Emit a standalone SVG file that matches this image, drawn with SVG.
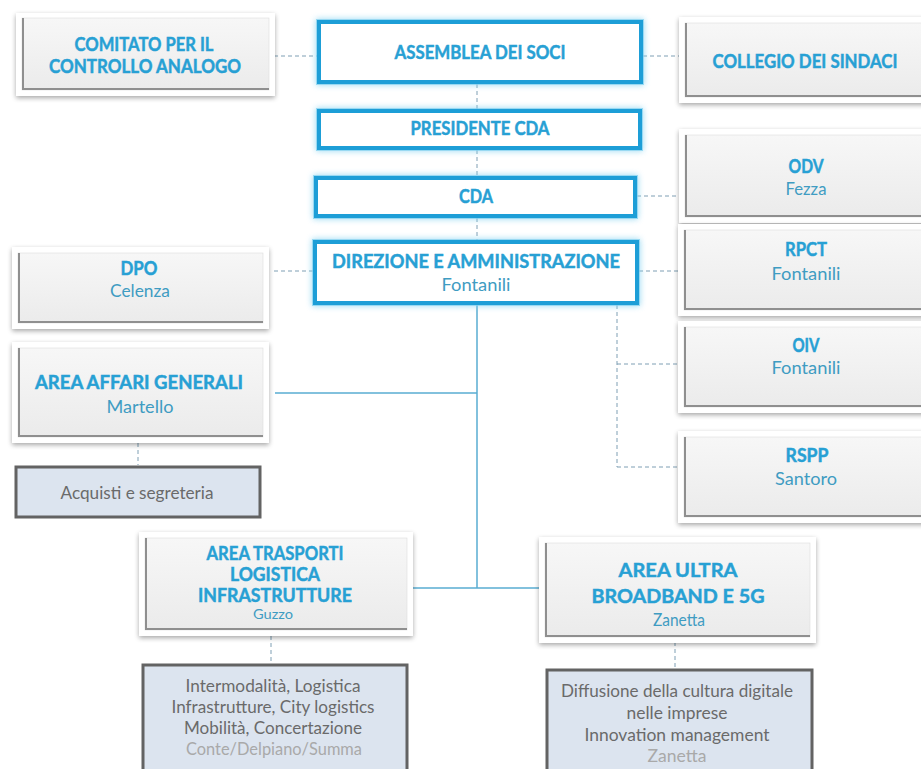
<svg xmlns="http://www.w3.org/2000/svg" width="921" height="769" viewBox="0 0 921 769">
<defs>
<linearGradient id="gg" x1="0" y1="0" x2="0" y2="1"><stop offset="0" stop-color="#f7f7f7"/><stop offset="1" stop-color="#ebebeb"/></linearGradient>
<filter id="sh" x="-10%" y="-20%" width="120%" height="140%"><feGaussianBlur in="SourceAlpha" stdDeviation="2.5"/><feOffset dx="0" dy="2"/><feComponentTransfer><feFuncA type="linear" slope="0.35"/></feComponentTransfer><feMerge><feMergeNode/><feMergeNode in="SourceGraphic"/></feMerge></filter>
<filter id="glow" x="-10%" y="-30%" width="120%" height="160%"><feGaussianBlur in="SourceGraphic" stdDeviation="3"/><feMerge><feMergeNode/><feMergeNode in="SourceGraphic"/></feMerge></filter>
<style>
.halo{fill:#ffffff;filter:url(#sh)}
.gbox{fill:url(#gg);stroke:#dcdcdc;stroke-width:0.6}
.bev{fill:none;stroke:#8f8f8f;stroke-width:2}
.bbox{fill:#ffffff;stroke:#1d9ed7;stroke-width:4}
.bglow{fill:none;stroke:#7fd0f0;stroke-width:6;filter:url(#glow);opacity:0.8}
.dbox{fill:#dce4ef;stroke:#636363;stroke-width:3}
text{font-family:Lato,"Liberation Sans",sans-serif;text-anchor:middle}
.t{font-weight:bold;fill:#27a0d4;stroke:#27a0d4;stroke-width:0.45;font-size:18px}
.s{fill:#3f9cc2;font-size:16.5px}
.b{fill:#6a6a6a;font-size:17px}
.bl{fill:#a9a9a9}
.dash{fill:none;stroke:#7f9fb4;stroke-width:1;stroke-dasharray:4 3}
.sol{fill:none;stroke:#5aadd2;stroke-width:1.5}
</style>
</defs>
<g id="connectors">
<path class="dash" d="M274 56H317M643 56H680M477 84V109M477 150V176M477 218V240M637 196H680M313 271H274M639 271H680M617 305V467M617 364H680M617 467H680M138 443V465M271 636V663M675 642V668"/>
<path class="sol" d="M477 305V588M275 393H477M411 588H541"/>
</g>
<g id="comitato">
<rect class="halo" x="16" y="13" width="259" height="83"/>
<rect class="gbox" x="22" y="18" width="247" height="72"/>
<path class="bev" d="M23 18V89H269"/>
<text class="t" x="144" y="51" textLength="139" lengthAdjust="spacingAndGlyphs">COMITATO PER IL</text>
<text class="t" x="145" y="73" textLength="192" lengthAdjust="spacingAndGlyphs">CONTROLLO ANALOGO</text>
</g>
<g id="assemblea">
<rect class="bglow" x="319" y="22" width="322" height="60"/>
<rect class="bbox" x="319" y="22" width="322" height="60"/>
<text class="t" x="480" y="59" textLength="171" lengthAdjust="spacingAndGlyphs">ASSEMBLEA DEI SOCI</text>
</g>
<g id="collegio">
<rect class="halo" x="679" y="17" width="250" height="86"/>
<rect class="gbox" x="685" y="23" width="245" height="74"/>
<path class="bev" d="M686 23V96H930"/>
<text class="t" x="805" y="68" textLength="185" lengthAdjust="spacingAndGlyphs">COLLEGIO DEI SINDACI</text>
</g>
<g id="presidente">
<rect class="bglow" x="319" y="111" width="321" height="37"/>
<rect class="bbox" x="319" y="111" width="321" height="37"/>
<text class="t" x="480" y="135" textLength="139" lengthAdjust="spacingAndGlyphs">PRESIDENTE CDA</text>
</g>
<g id="cda">
<rect class="bglow" x="316" y="178" width="319" height="38"/>
<rect class="bbox" x="316" y="178" width="319" height="38"/>
<text class="t" x="476" y="203" textLength="34" lengthAdjust="spacingAndGlyphs">CDA</text>
</g>
<g id="odv">
<rect class="halo" x="679" y="129" width="250" height="94"/>
<rect class="gbox" x="685" y="135" width="245" height="82"/>
<path class="bev" d="M686 135V216H930"/>
<text class="t" x="806" y="173" textLength="35" lengthAdjust="spacingAndGlyphs">ODV</text>
<text class="s" x="806" y="195" textLength="41" lengthAdjust="spacingAndGlyphs">Fezza</text>
</g>
<g id="direzione">
<rect class="bglow" x="315" y="242" width="322" height="61"/>
<rect class="bbox" x="315" y="242" width="322" height="61"/>
<text class="t" x="476" y="268" textLength="288" lengthAdjust="spacingAndGlyphs">DIREZIONE E AMMINISTRAZIONE</text>
<text class="s" x="476" y="291" textLength="69" lengthAdjust="spacingAndGlyphs">Fontanili</text>
</g>
<g id="dpo">
<rect class="halo" x="12" y="247" width="257" height="82"/>
<rect class="gbox" x="18" y="253" width="245" height="70"/>
<path class="bev" d="M19 253V322H263"/>
<text class="t" x="139" y="275" textLength="37" lengthAdjust="spacingAndGlyphs">DPO</text>
<text class="s" x="140" y="297" textLength="60" lengthAdjust="spacingAndGlyphs">Celenza</text>
</g>
<g id="rpct">
<rect class="halo" x="678" y="224" width="250" height="92"/>
<rect class="gbox" x="684" y="230" width="245" height="80"/>
<path class="bev" d="M685 230V309H930"/>
<text class="t" x="806" y="256" textLength="42" lengthAdjust="spacingAndGlyphs">RPCT</text>
<text class="s" x="806" y="280" textLength="69" lengthAdjust="spacingAndGlyphs">Fontanili</text>
</g>
<g id="oiv">
<rect class="halo" x="678" y="321" width="250" height="92"/>
<rect class="gbox" x="684" y="327" width="245" height="80"/>
<path class="bev" d="M685 327V406H930"/>
<text class="t" x="806" y="352" textLength="27" lengthAdjust="spacingAndGlyphs">OIV</text>
<text class="s" x="806" y="374" textLength="69" lengthAdjust="spacingAndGlyphs">Fontanili</text>
</g>
<g id="affari">
<rect class="halo" x="12" y="342" width="257" height="101"/>
<rect class="gbox" x="18" y="348" width="245" height="89"/>
<path class="bev" d="M19 348V436H263"/>
<text class="t" x="139" y="389" textLength="208" lengthAdjust="spacingAndGlyphs">AREA AFFARI GENERALI</text>
<text class="s" x="140" y="413" textLength="67" lengthAdjust="spacingAndGlyphs">Martello</text>
</g>
<g id="rspp">
<rect class="halo" x="678" y="431" width="250" height="92"/>
<rect class="gbox" x="684" y="437" width="245" height="80"/>
<path class="bev" d="M685 437V516H930"/>
<text class="t" x="807" y="462" textLength="43" lengthAdjust="spacingAndGlyphs">RSPP</text>
<text class="s" x="806" y="485" textLength="62" lengthAdjust="spacingAndGlyphs">Santoro</text>
</g>
<g id="acquisti">
<rect class="dbox" x="16" y="467" width="244" height="50"/>
<text class="b" x="137" y="499" textLength="153" lengthAdjust="spacingAndGlyphs">Acquisti e segreteria</text>
</g>
<g id="trasporti">
<rect class="halo" x="139" y="532" width="274" height="104"/>
<rect class="gbox" x="145" y="538" width="262" height="92"/>
<path class="bev" d="M146 538V629H407"/>
<text class="t" x="275" y="560" textLength="137" lengthAdjust="spacingAndGlyphs">AREA TRASPORTI</text>
<text class="t" x="275" y="581" textLength="90" lengthAdjust="spacingAndGlyphs">LOGISTICA</text>
<text class="t" x="275" y="602" textLength="154" lengthAdjust="spacingAndGlyphs">INFRASTRUTTURE</text>
<text class="s" x="273" y="619" style="font-size:14px" textLength="40" lengthAdjust="spacingAndGlyphs">Guzzo</text>
</g>
<g id="ultra">
<rect class="halo" x="539" y="537" width="277" height="106"/>
<rect class="gbox" x="545" y="543" width="265" height="94"/>
<path class="bev" d="M546 543V636H810"/>
<text class="t" x="678" y="577" style="font-size:19.5px" textLength="119" lengthAdjust="spacingAndGlyphs">AREA ULTRA</text>
<text class="t" x="678" y="603" style="font-size:19.5px" textLength="173" lengthAdjust="spacingAndGlyphs">BROADBAND E 5G</text>
<text class="s" x="679" y="626" textLength="52" lengthAdjust="spacingAndGlyphs">Zanetta</text>
</g>
<g id="trasporti-attivita">
<rect class="dbox" x="143" y="665" width="264" height="120"/>
<text class="b" x="273" y="692" textLength="175" lengthAdjust="spacingAndGlyphs">Intermodalità, Logistica</text>
<text class="b" x="273" y="713" textLength="203" lengthAdjust="spacingAndGlyphs">Infrastrutture, City logistics</text>
<text class="b" x="273" y="734" textLength="178" lengthAdjust="spacingAndGlyphs">Mobilità, Concertazione</text>
<text class="b bl" x="274" y="755" textLength="176" lengthAdjust="spacingAndGlyphs">Conte/Delpiano/Summa</text>
</g>
<g id="ultra-attivita">
<rect class="dbox" x="547" y="670" width="265" height="120"/>
<text class="b" x="677" y="697" textLength="232" lengthAdjust="spacingAndGlyphs">Diffusione della cultura digitale</text>
<text class="b" x="677" y="719" textLength="101" lengthAdjust="spacingAndGlyphs">nelle imprese</text>
<text class="b" x="677" y="741" textLength="185" lengthAdjust="spacingAndGlyphs">Innovation management</text>
<text class="b bl" x="677" y="762" textLength="59" lengthAdjust="spacingAndGlyphs">Zanetta</text>
</g>
</svg>
